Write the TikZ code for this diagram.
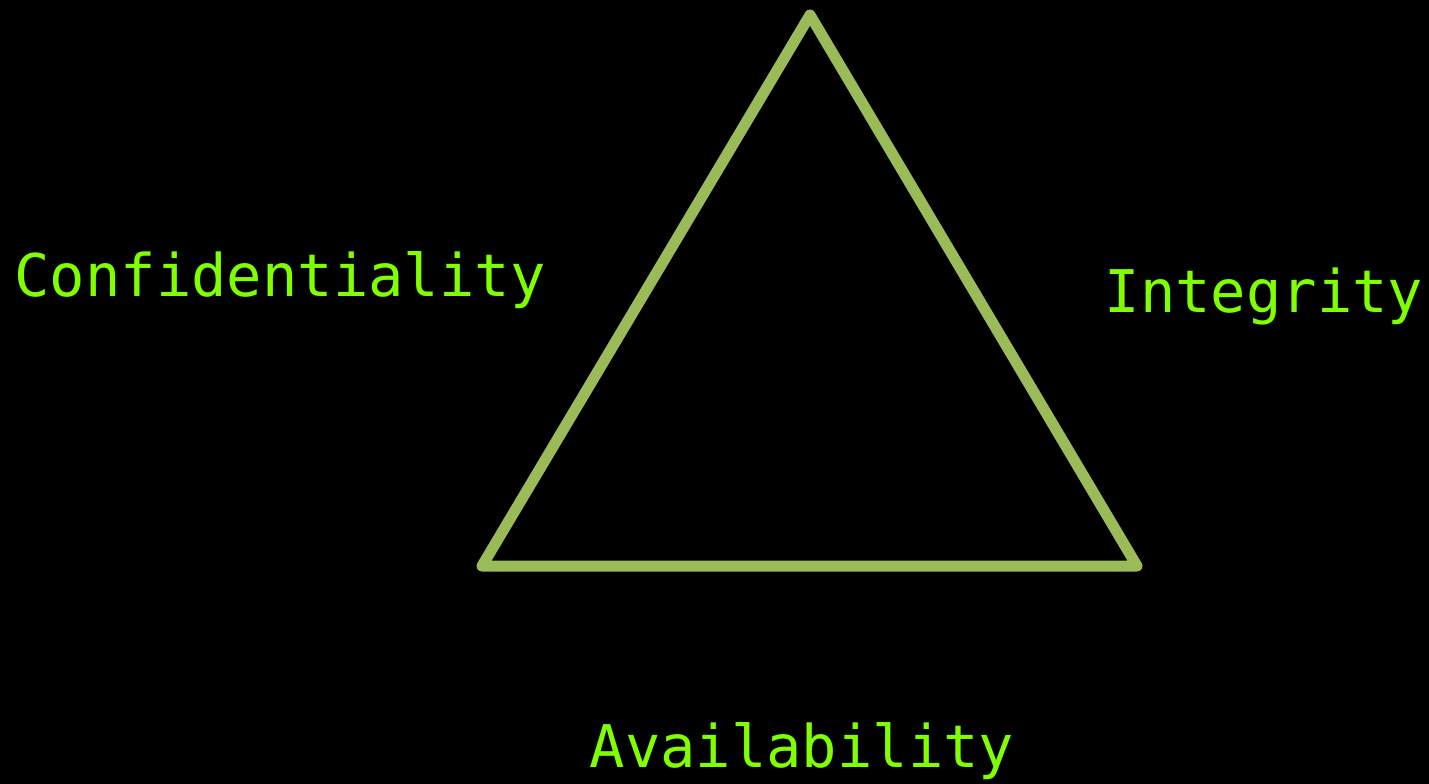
\documentclass[tikz,border=0pt]{standalone}
\usepackage{fontspec}
\newfontfamily\labelfont{DejaVu Sans Mono}
\definecolor{triline}{HTML}{9BBB59}
\definecolor{labelgreen}{HTML}{7FFF00}
\begin{document}
\begin{tikzpicture}[x=1pt,y=-1pt,
  lbl/.style={anchor=base,inner sep=0pt,text=labelgreen,font=\labelfont\fontsize{58.8}{60}\selectfont},
  tri/.style={draw=triline,line width=11pt,line join=round,line cap=round}]
\fill[black] (0,0) rectangle (1429,784);
\useasboundingbox (0,0) rectangle (1429,784);
\coordinate (top) at (810,15);
\coordinate (bl) at (482,566);
\coordinate (br) at (1137,566);
\draw[tri] (top) -- (br) -- (bl) -- cycle;
\node[lbl] (conf) at (280,296) {Confidentiality};
\node[lbl] (integ) at (1264,312) {Integrity};
\node[lbl] (avail) at (802,767) {Availability};
\end{tikzpicture}
\end{document}
